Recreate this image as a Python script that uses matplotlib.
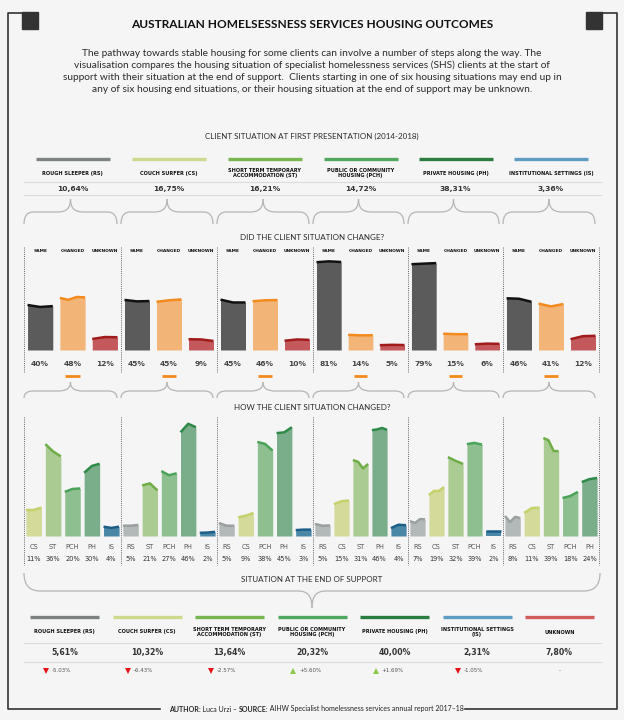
import numpy as np
import matplotlib
matplotlib.use("Agg")
import matplotlib.pyplot as plt
from matplotlib.path import Path
from matplotlib.patches import PathPatch, Rectangle
from matplotlib.transforms import blended_transform_factory

# ---- data ----
start_codes = ["RS", "CS", "ST", "PCH", "PH", "IS"]
start_labels = ["ROUGH SLEEPER (RS)", "COUCH SURFER (CS)",
                "SHORT TERM TEMPORARY\nACCOMMODATION (ST)",
                "PUBLIC OR COMMUNITY\nHOUSING (PCH)",
                "PRIVATE HOUSING (PH)", "INSTITUTIONAL SETTINGS (IS)"]
start_share = [10.64, 16.75, 16.21, 14.72, 38.31, 3.36]

change_labels = ["SAME", "CHANGED", "UNKNOWN"]
same_pct = [40, 45, 45, 81, 79, 46]
changed_pct = [48, 45, 46, 14, 15, 41]
unknown_pct = [12, 9, 10, 5, 6, 12]

# tops of each bar over the period
same_tops = [[40.9, 39.1, 39.9], [45.5, 44.2, 44.5], [45.8, 43.2, 43.2],
             [79.8, 80.6, 80.0], [78.0, 78.5, 79.0], [47.0, 46.6, 43.8]]
changed_tops = [[47.3, 45.6, 48.2, 47.8], [43.8, 45.2, 46.0], [44.3, 45.2, 45.4],
                [13.8, 13.3, 13.4], [14.8, 14.4, 14.4], [42.2, 39.6, 41.8]]
unknown_tops = [[10.0, 11.8, 11.6], [9.8, 9.6, 8.2], [8.4, 9.6, 9.2],
                [4.4, 4.7, 4.5], [5.2, 5.8, 5.6], [9.8, 12.6, 12.9]]

dest_codes = [["CS", "ST", "PCH", "PH", "IS"],
              ["RS", "ST", "PCH", "PH", "IS"],
              ["RS", "CS", "PCH", "PH", "IS"],
              ["RS", "CS", "ST", "PH", "IS"],
              ["RS", "CS", "ST", "PCH", "IS"],
              ["RS", "CS", "ST", "PCH", "PH"]]
dest_pct = [[11, 36, 20, 30, 4],
            [5, 21, 27, 46, 2],
            [5, 9, 38, 45, 3],
            [5, 15, 31, 46, 4],
            [7, 19, 32, 39, 2],
            [8, 11, 39, 18, 24]]
dest_tops = [
    [[10.6, 10.6, 11.6], [37.5, 34.5, 32.5], [18.0, 19.2, 19.4], [25.8, 28.6, 29.5], [3.8, 3.3, 3.8]],
    [[4.2, 4.2, 4.5], [20.6, 21.5, 18.6], [26.5, 24.8, 25.6], [42.3, 45.8, 44.4], [1.3, 1.4, 1.7]],
    [[5.3, 4.2, 4.2], [7.6, 8.3, 9.4], [38.4, 37.6, 34.8], [42.0, 42.3, 44.4], [2.4, 2.6, 2.6]],
    [[4.9, 4.2, 4.3], [13.0, 14.2, 14.5], [31.0, 30.3, 27.6, 29.4], [43.2, 43.5, 44.1, 43.3], [3.2, 4.6, 4.4]],
    [[6.1, 5.3, 6.9, 6.8], [16.7, 18.4, 18.4, 20.0], [32.2, 30.7, 29.4], [37.5, 38.0, 37.3], [2.0, 2.0, 2.0]],
    [[8.2, 5.7, 7.8, 7.3], [9.4, 11.4, 11.6], [40.0, 39.1, 34.7, 34.6], [15.5, 16.3, 18.0], [22.0, 23.2, 23.7]],
]

end_labels = ["ROUGH SLEEPER (RS)", "COUCH SURFER (CS)",
              "SHORT TERM TEMPORARY\nACCOMMODATION (ST)",
              "PUBLIC OR COMMUNITY\nHOUSING (PCH)", "PRIVATE HOUSING (PH)",
              "INSTITUTIONAL SETTINGS\n(IS)", "UNKNOWN"]
end_share = [5.61, 10.32, 13.64, 20.32, 40.00, 2.31, 7.80]
end_delta = [-5.03, -6.43, -2.57, 5.60, 1.69, -1.05, None]

# ---- styles ----
BG = "#f5f5f5"
TXT = "#2b2b2b"
legend_col = {"RS": "#7d8383", "CS": "#cfd98e", "ST": "#76b552", "PCH": "#4fa85e",
              "PH": "#2b7d3f", "IS": "#5e9cc4", "UNK": "#d25b5b"}
fill_col = {"RS": "#b3b8b8", "CS": "#d4da9a", "ST": "#aacb92", "PCH": "#8dbf90",
            "PH": "#7aad8a", "IS": "#4a86a6"}
top_col = {"RS": "#9aa0a0", "CS": "#c5d16b", "ST": "#6fae47", "PCH": "#4ba35a",
           "PH": "#2f8a47", "IS": "#1d5e88"}
chg_fill = ["#5b5b5b", "#f3b577", "#c4595d"]
chg_top = ["#111111", "#f28a1e", "#a01b1b"]

W, H = 624, 720
fig = plt.figure(figsize=(W / 100, H / 100), dpi=100, facecolor=BG)
ax0 = fig.add_axes([0, 0, 1, 1])
ax0.set_xlim(0, W)
ax0.set_ylim(H, 0)
ax0.axis("off")

LATO = "Lato"
NUM = "DejaVu Sans"


def panel(x0, x1, ytop, ybase):
    a = fig.add_axes([x0 / W, 1 - ybase / H, (x1 - x0) / W, (ybase - ytop) / H])
    a.patch.set_alpha(0)
    a.axis("off")
    return a


def area_bar(a, c, w, tops, fc, lc):
    xs = np.linspace(c - w / 2, c + w / 2, len(tops))
    a.fill_between(xs, 0, tops, color=fc, lw=0)
    a.plot(xs, tops, color=lc, lw=1.8, solid_capstyle="butt")


def brace(x0, x1, y_end, y_mid, y_tip, r=9, rt=13):
    xc = (x0 + x1) / 2
    for s, xe in ((1, x0), (-1, x1)):
        verts = [(xe, y_end), (xe, y_mid), (xe + s * r, y_mid),
                 (xc - s * rt, y_mid),
                 (xc - s * rt * 0.25, y_mid), (xc, y_mid + (y_tip - y_mid) * 0.35), (xc, y_tip)]
        codes = [Path.MOVETO, Path.CURVE3, Path.CURVE3, Path.LINETO,
                 Path.CURVE4, Path.CURVE4, Path.CURVE4]
        ax0.add_patch(PathPatch(Path(verts, codes), fc="none", ec="#b5b5b5", lw=0.9))


def pct(v):
    return f"{v:.2f}%".replace(".", ",")


# ---- frame ----
ax0.plot([22, 8, 8, 160], [13, 13, 709, 709], color="#333333", lw=1.2)
ax0.plot([602, 617, 617, 465], [13, 13, 709, 709], color="#333333", lw=1.2)
ax0.add_patch(Rectangle((22, 12), 16, 17, color="#333333"))
ax0.add_patch(Rectangle((586, 12), 16, 17, color="#333333"))

ax0.text(312, 25, "AUSTRALIAN HOMELSESSNESS SERVICES HOUSING OUTCOMES", ha="center",
         va="center", fontsize=8.6, fontweight="bold", family=LATO, color="#111111")
para = ["The pathway towards stable housing for some clients can involve a number of steps along the way. The",
        "visualisation compares the housing situation of specialist homelessness services (SHS) clients at the start of",
        "support with their situation at the end of support.  Clients starting in one of six housing situations may end up in",
        "any of six housing end situations, or their housing situation at the end of support may be unknown."]
for i, line in enumerate(para):
    ax0.text(312, 53 + i * 12.3, line, ha="center", va="center", fontsize=7.3,
             family=LATO, color=TXT)

ax0.text(312, 136, "CLIENT SITUATION AT FIRST PRESENTATION (2014-2018)", ha="center",
         va="center", fontsize=5.8, family=LATO, color=TXT)

edges = [24, 121, 217, 313, 408, 503, 599]
centers = [(edges[i] + edges[i + 1]) / 2 for i in range(6)]

# top legend
ax0.plot([24, 601], [182, 182], color="#dcdcdc", lw=0.8)
ax0.plot([24, 601], [195, 195], color="#dcdcdc", lw=0.8)
for i, code in enumerate(start_codes):
    c = centers[i]
    ax0.plot([c - 37, c + 37], [159, 159], color=legend_col[code], lw=2.4, solid_capstyle="butt")
    ax0.text(c, 173, start_labels[i], ha="center", va="center", fontsize=3.6,
             fontweight="bold", family=NUM, color="#111111", linespacing=1.1)
    ax0.text(c, 189, pct(start_share[i]), ha="center", va="center", fontsize=5.4,
             fontweight="bold", family=NUM, color="#333333")
    brace(edges[i], edges[i + 1] - 4, 224, 212, 199)

ax0.text(312, 237, "DID THE CLIENT SITUATION CHANGE?", ha="center", va="center",
         fontsize=5.8, family=LATO, color=TXT)

# row 1: same / changed / unknown
for x in edges:
    ax0.plot([x, x], [247, 373], color="#666666", lw=0.7, ls=(0, (1, 1.2)))
tops_all = [same_tops, changed_tops, unknown_tops]
pct_all = [same_pct, changed_pct, unknown_pct]
for i in range(6):
    a = panel(edges[i], edges[i + 1], 247, 350)
    a.set_xlim(-0.5, 2.5)
    a.set_ylim(0, 103 / 1.1)
    tr = blended_transform_factory(a.transData, ax0.transData)
    for j in range(3):
        area_bar(a, j, 0.78, tops_all[j][i], chg_fill[j], chg_top[j])
        a.text(j, 251, change_labels[j], transform=tr, ha="center", va="center",
               fontsize=3.2, fontweight="bold", family=NUM, color="#111111")
        a.text(j, 364, f"{pct_all[j][i]}%", transform=tr, ha="center", va="center",
               fontsize=5.4, fontweight="bold", family=NUM, color="#444444")
    # orange marker under the CHANGED share
    a.plot([0.78, 1.22], [376, 376], transform=tr, color="#f28a1e", lw=2,
           solid_capstyle="butt", clip_on=False)
    brace(edges[i], edges[i + 1] - 4, 398, 391, 382)

ax0.text(312, 407, "HOW THE CLIENT SITUATION CHANGED?", ha="center", va="center",
         fontsize=5.8, family=LATO, color=TXT)

# row 2: where the changed clients went
for x in edges:
    ax0.plot([x, x], [417, 565], color="#666666", lw=0.7, ls=(0, (1, 1.2)))
for i in range(6):
    a = panel(edges[i], edges[i + 1], 417, 536)
    a.set_xlim(-0.5, 4.5)
    a.set_ylim(0, 119 / 2.45)
    tr = blended_transform_factory(a.transData, ax0.transData)
    for j, code in enumerate(dest_codes[i]):
        area_bar(a, j, 0.8, dest_tops[i][j], fill_col[code], top_col[code])
        a.text(j, 547, code, transform=tr, ha="center", va="center", fontsize=4.8,
               family=NUM, color="#555555")
        a.text(j, 559, f"{dest_pct[i][j]}%", transform=tr, ha="center", va="center",
               fontsize=4.8, family=NUM, color="#333333")

ax0.text(312, 580, "SITUATION AT THE END OF SUPPORT", ha="center", va="center",
         fontsize=5.8, family=LATO, color=TXT)
brace(24, 600, 573, 591, 608, r=16, rt=14)

# bottom legend
end_keys = start_codes + ["UNK"]
end_centers = [64.5 + 82.5 * k for k in range(7)]
ax0.plot([24, 601], [643, 643], color="#dcdcdc", lw=0.8)
ax0.plot([24, 601], [662, 662], color="#dcdcdc", lw=0.8)
for k, key in enumerate(end_keys):
    c = end_centers[k]
    ax0.plot([c - 34.5, c + 34.5], [617, 617], color=legend_col[key], lw=2.4, solid_capstyle="butt")
    ax0.text(c, 632, end_labels[k], ha="center", va="center", fontsize=3.6,
             fontweight="bold", family=NUM, color="#111111", linespacing=1.1)
    ax0.text(c, 653, pct(end_share[k]), ha="center", va="center", fontsize=5.6,
             fontweight="bold", family=NUM, color="#333333")
    d = end_delta[k]
    if d is None:
        ax0.text(c, 671, "-", ha="center", va="center", fontsize=4, family=NUM, color="#666666")
    else:
        up = d > 0
        ax0.plot(c - 19, 671, marker="^" if up else "v", ms=4.2, ls="none",
                 color="#8cc84b" if up else "#e8141b", mew=0)
        ax0.text(c - 13, 671, f"{d:+.2f}%", ha="left", va="center", fontsize=4,
                 family=NUM, color="#555555")

# footer
parts = [("AUTHOR", "bold"), (": Luca Urzi – ", "normal"), ("SOURCE:", "bold"),
         (" AIHW Specialist homelessness services annual report 2017–18", "normal")]
t = ax0.text(169, 709, parts[0][0], ha="left", va="center", fontsize=5,
             fontweight=parts[0][1], family=LATO, color="#222222")
for s, wgt in parts[1:]:
    t = ax0.annotate(s, xy=(1, 0), xycoords=t, ha="left", va="bottom", fontsize=5,
                     fontweight=wgt, family=LATO, color="#222222")

fig.savefig("out.png", dpi=100, facecolor=BG)
